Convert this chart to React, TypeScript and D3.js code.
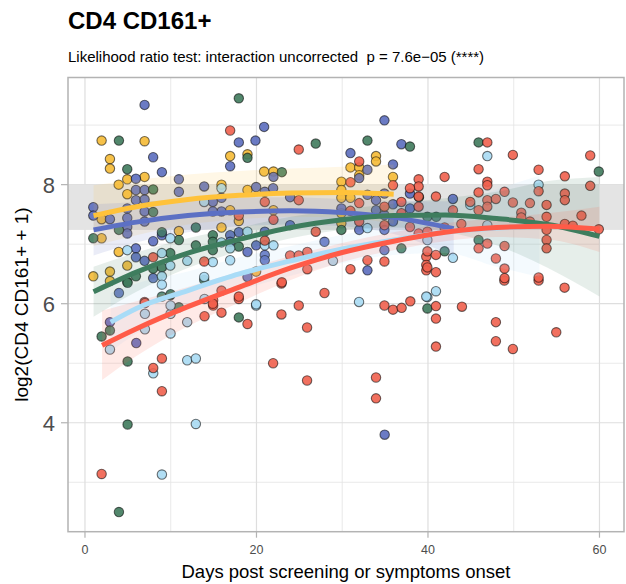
import React from "react";
import * as d3 from "d3";

type P = [number, number];
type F = [number, number, number, number];

const xTicks = [0, 20, 40, 60];
const xMinor = [10, 30, 50];
const yTicks = [4, 6, 8];
const yMinor = [3, 5, 7, 9];
const refBand = [7.24, 8.0];

const yellowPts: P[] = [
  [1.94, 8.74], [6.95, 8.73], [2.91, 8.43], [2.91, 8.27], [4.93, 8.09], [6.95, 8.13], [3.93, 8.0], [4.93, 7.84],
  [1.94, 7.42], [1.94, 7.1], [10.95, 7.22], [3.93, 6.87], [4.93, 6.64], [0.97, 6.46], [2.91, 6.54], [2.91, 6.38],
  [16.93, 8.48], [18.95, 8.51], [20.89, 8.22], [21.98, 8.22], [15.92, 8.0], [18.95, 7.91], [16.93, 7.57], [17.94, 7.39],
  [21.98, 7.57], [15.92, 7.28], [19.96, 6.54], [33.94, 8.48], [33.94, 8.39], [30.96, 8.29], [31.98, 8.29], [35.92, 8.13],
  [31.98, 8.16], [29.9, 8.05], [29.9, 7.91], [29.9, 7.78], [30.96, 7.78], [29.9, 7.52], [29.9, 7.35],
];

const bluePts: P[] = [
  [6.95, 9.34], [7.95, 8.46], [8.97, 8.21], [5.94, 8.1], [10.95, 8.09], [10.95, 7.88], [5.94, 7.91], [6.95, 7.91],
  [5.94, 7.74], [6.95, 7.75], [6.95, 7.55], [0.97, 7.62], [0.97, 7.48], [2.91, 7.42], [4.93, 7.6], [4.93, 7.44],
  [4.93, 7.29], [4.93, 7.18], [6.95, 7.38], [7.95, 7.05], [8.97, 7.15], [5.94, 6.93], [5.94, 6.78], [6.95, 6.72],
  [7.95, 6.43], [3.96, 6.18], [5.98, 5.34], [2.91, 5.69], [20.89, 8.97], [17.94, 8.71], [19.88, 8.74], [16.93, 8.31],
  [21.98, 8.13], [13.9, 7.97], [19.96, 7.96], [20.97, 7.88], [21.94, 7.94], [23.92, 7.79], [15.92, 7.78], [14.91, 7.71],
  [15.92, 7.55], [14.91, 7.55], [17.94, 7.2], [20.97, 7.21], [16.93, 7.15], [23.92, 7.32], [16.93, 7.04], [18.95, 6.87],
  [19.96, 6.98], [20.97, 6.82], [20.97, 6.73], [18.95, 6.45], [34.92, 9.08], [36.9, 8.68], [30.96, 8.53], [32.94, 8.25],
  [35.92, 8.34], [31.98, 8.11], [32.94, 7.83], [33.94, 7.74], [34.92, 7.85], [35.92, 7.67], [37.9, 7.85], [29.9, 7.6],
  [33.94, 7.57], [37.9, 7.6], [34.92, 7.49], [35.92, 7.38], [31.98, 7.24], [34.92, 7.24], [27.93, 7.04], [32.94, 6.56],
  [34.92, 6.9], [42.91, 7.76], [34.95, 3.8],
];

const greenPts: P[] = [
  [3.96, 8.74], [4.93, 8.26], [7.95, 7.92], [7.95, 7.54], [3.96, 7.24], [0.97, 7.1], [8.97, 7.2], [10.95, 7.07],
  [9.95, 6.85], [7.95, 6.59], [8.97, 6.61], [4.93, 6.37], [5.94, 6.46], [8.97, 6.12], [9.95, 6.14], [4.97, 6.35],
  [9.98, 6.16], [10.95, 5.94], [2.91, 5.55], [1.94, 5.45], [4.97, 5.03], [4.97, 3.97], [3.96, 2.5], [17.94, 5.77],
  [17.94, 9.45], [18.95, 8.45], [22.96, 8.21], [12.93, 7.28], [14.91, 7.15], [12.93, 6.98], [14.91, 7.04], [17.94, 6.96],
  [14.91, 6.9], [13.9, 6.4], [26.91, 8.69], [32.94, 8.74], [37.9, 8.64], [29.9, 7.24], [36.9, 6.93], [38.95, 7.79],
  [39.93, 7.46], [40.96, 7.46], [39.93, 5.92], [45.9, 8.71], [45.9, 7.07], [41.94, 6.88], [59.92, 8.22],
];

const lightPts: P[] = [
  [9.95, 7.1], [4.93, 6.9], [8.97, 6.85], [9.95, 6.64], [8.97, 6.46], [8.97, 6.32], [6.99, 5.83], [9.98, 5.83],
  [9.98, 5.97], [2.91, 5.23], [6.99, 5.57], [11.92, 5.69], [9.98, 5.5], [7.96, 4.83], [11.92, 5.05], [12.93, 5.08],
  [12.93, 3.98], [8.97, 3.13], [13.94, 6.08], [19.96, 5.97], [31.96, 6.03], [39.93, 6.11], [40.93, 6.21],
  [15.92, 7.94], [13.9, 7.71], [18.95, 7.21], [15.92, 7.03], [20.97, 6.98], [21.98, 6.98], [16.93, 6.93], [11.93, 6.72],
  [14.91, 6.7], [16.93, 6.73], [13.9, 6.45], [19.96, 5.99], [32.94, 7.27], [28.92, 6.72], [39.8, 6.12],
  [46.92, 8.48], [52.9, 8.0], [44.93, 7.66], [46.92, 7.32], [39.93, 7.07], [42.91, 6.77],
];

const redPts: P[] = [
  [6.95, 6.03], [7.95, 6.78], [1.94, 3.14], [6.99, 6.01], [8.97, 5.08], [7.96, 4.92], [8.97, 4.53], [13.94, 5.79],
  [14.95, 6.06], [14.95, 5.97], [15.92, 6.22], [15.92, 5.85], [17.94, 6.08], [18.95, 5.66], [21.94, 5.0], [22.91, 6.34],
  [22.91, 5.82], [24.93, 5.97], [25.9, 5.6], [25.9, 4.71], [27.93, 6.18], [34.92, 5.97], [35.92, 5.9], [36.93, 5.93],
  [37.94, 6.04], [40.93, 5.96], [40.93, 5.75], [40.93, 5.28], [43.96, 5.95], [47.92, 5.69], [47.92, 5.37], [49.9, 5.24],
  [54.96, 5.52], [33.94, 4.76], [33.94, 4.41], [55.93, 6.27], [48.9, 6.39], [52.9, 6.39],
  [16.93, 8.91], [24.93, 8.59], [20.97, 7.71], [24.93, 7.74], [17.94, 7.48], [21.98, 7.41], [20.97, 7.06], [13.9, 6.71],
  [22.96, 6.36], [23.92, 6.81], [24.93, 6.81], [17.94, 6.12], [14.91, 6.0], [31.98, 8.39], [30.96, 8.04], [35.92, 7.99],
  [38.91, 8.09], [38.91, 7.97], [34.92, 7.63], [36.9, 7.71], [37.9, 7.94], [38.91, 7.63], [38.91, 7.8], [31.98, 7.69],
  [30.96, 7.56], [36.9, 7.52], [31.98, 7.38], [34.92, 7.32], [37.9, 7.29], [38.91, 7.18], [26.91, 7.21], [25.93, 6.87],
  [25.93, 6.58], [30.96, 6.58], [32.94, 6.73], [34.92, 6.71], [39.8, 6.79], [39.8, 6.65], [39.8, 6.56],
  [46.92, 8.71], [49.9, 8.5], [45.9, 8.26], [41.94, 8.13], [52.9, 8.25], [46.92, 8.05], [46.92, 7.99], [48.93, 7.88],
  [45.9, 7.87], [52.9, 7.89], [40.93, 7.8], [44.93, 7.71], [46.92, 7.74], [47.92, 7.76], [46.92, 7.63], [49.9, 7.7],
  [51.89, 7.69], [45.9, 7.57], [50.88, 7.53], [50.88, 7.45], [42.91, 7.57], [53.83, 7.66], [53.83, 7.46], [43.89, 7.34],
  [51.89, 7.38], [41.94, 7.28], [39.93, 7.21], [46.92, 7.01], [45.9, 6.93], [48.93, 6.97], [53.83, 7.24], [53.83, 7.07],
  [53.83, 6.93], [39.93, 6.88], [40.93, 6.82], [47.92, 6.76], [39.93, 6.61], [40.93, 6.53], [48.93, 6.59], [48.93, 6.43],
  [52.9, 6.44], [58.92, 8.49], [55.96, 8.14], [58.92, 7.98], [55.96, 7.85], [55.96, 7.74], [57.9, 7.48], [55.96, 7.34],
  [56.89, 7.31], [59.92, 7.25],
];

// fitted curves: [day, fit, lower, upper]
const yellowFit: F[] = [
  [1, 7.48, 6.97, 7.99], [6, 7.63, 7.15, 8.08], [12, 7.75, 7.33, 8.17], [18, 7.82, 7.42, 8.23],
  [24, 7.86, 7.46, 8.27], [30, 7.87, 7.45, 8.3], [36, 7.84, 7.34, 8.34],
];
const blueFit: F[] = [
  [1, 7.24, 6.81, 7.67], [6, 7.37, 7.03, 7.71], [12, 7.48, 7.2, 7.76], [18, 7.54, 7.3, 7.78],
  [24, 7.56, 7.33, 7.79], [30, 7.53, 7.3, 7.76], [36, 7.45, 7.17, 7.73], [43, 7.26, 6.8, 7.72],
];
const greenFit: F[] = [
  [1, 6.2, 5.78, 6.62], [6, 6.53, 6.2, 6.86], [12, 6.85, 6.6, 7.1], [18, 7.08, 6.88, 7.28],
  [24, 7.28, 7.1, 7.46], [30, 7.41, 7.24, 7.58], [36, 7.48, 7.28, 7.68], [42, 7.49, 7.21, 7.77],
  [48, 7.43, 6.98, 7.88], [54, 7.33, 6.6, 8.06], [60, 7.13, 6.12, 8.13],
];
const lightFit: F[] = [
  [3, 5.69, 5.2, 6.18], [6, 5.92, 5.5, 6.34], [12, 6.22, 5.9, 6.54], [18, 6.5, 6.22, 6.78],
  [24, 6.72, 6.47, 6.97], [30, 6.92, 6.68, 7.16], [36, 7.07, 6.82, 7.32], [42, 7.2, 6.85, 7.55],
  [48, 7.27, 6.62, 7.92], [53, 7.3, 6.45, 8.15],
];
const redFit: F[] = [
  [2, 5.3, 4.72, 5.88], [6, 5.58, 5.12, 6.04], [12, 5.95, 5.62, 6.28], [18, 6.28, 6.02, 6.54],
  [24, 6.6, 6.4, 6.8], [30, 6.86, 6.7, 7.02], [36, 7.05, 6.9, 7.2], [42, 7.2, 7.05, 7.35],
  [48, 7.28, 7.12, 7.44], [54, 7.3, 7.08, 7.52], [60, 7.25, 6.87, 7.63],
];

const series = [
  { key: "yellow", fill: "#F5BA35", line: "#FFC23A", pts: yellowPts, fit: yellowFit },
  { key: "blue", fill: "#5B6DBE", line: "#5C70C4", pts: bluePts, fit: blueFit },
  { key: "green", fill: "#3F7A5C", line: "#3E7D5E", pts: greenPts, fit: greenFit },
  { key: "light", fill: "#A8DAF3", line: "#A9DCF7", pts: lightPts, fit: lightFit },
  { key: "red", fill: "#F0604E", line: "#FF5B48", pts: redPts, fit: redFit },
];
const lineOrder = ["yellow", "blue", "light", "green", "red"];

const W = 626, H = 584;
const PL = 68, PR = 624, PT = 77.5, PB = 531.7;
const FONT = "'Liberation Sans', Arial, Helvetica, sans-serif";

export default function App() {
  const x = d3.scaleLinear().domain([-1.98, 62.86]).range([PL, PR]);
  const y = d3.scaleLinear().domain([2.17, 9.8]).range([PB, PT]);
  const line = d3.line<F>().x(d => x(d[0])).y(d => y(d[1])).curve(d3.curveMonotoneX);
  const area = d3.area<F>().x(d => x(d[0])).y0(d => y(d[2])).y1(d => y(d[3])).curve(d3.curveMonotoneX);
  const byKey: any = {};
  series.forEach(s => (byKey[s.key] = s));

  return (
    <svg width={W} height={H} style={{ position: "absolute", left: 0, top: 0, background: "#fff" }} fontFamily={FONT}>
      <rect x={0} y={0} width={W} height={H} fill="#fff" />
      <text x={68} y={29} fontSize={24} fontWeight="bold" fill="#000">CD4 CD161+</text>
      <text x={68} y={62} fontSize={15} fill="#000" style={{ whiteSpace: "pre" }} xmlSpace="preserve">
        {"Likelihood ratio test: interaction uncorrected\u00A0 p = 7.6e\u221205 (****)"}
      </text>
      <defs>
        <clipPath id="panel">
          <rect x={PL} y={PT} width={PR - PL} height={PB - PT} />
        </clipPath>
      </defs>
      {yMinor.map(t => (
        <line key={"ym" + t} x1={PL} x2={PR} y1={y(t)} y2={y(t)} stroke="#e3e3e3" strokeWidth={0.8} />
      ))}
      {xMinor.map(t => (
        <line key={"xm" + t} x1={x(t)} x2={x(t)} y1={PT} y2={PB} stroke="#e3e3e3" strokeWidth={0.8} />
      ))}
      {yTicks.map(t => (
        <line key={"yg" + t} x1={PL} x2={PR} y1={y(t)} y2={y(t)} stroke="#dedede" strokeWidth={1.2} />
      ))}
      {xTicks.map(t => (
        <line key={"xg" + t} x1={x(t)} x2={x(t)} y1={PT} y2={PB} stroke="#dedede" strokeWidth={1.2} />
      ))}
      <g clipPath="url(#panel)">
        <rect x={PL} width={PR - PL} y={y(refBand[1])} height={y(refBand[0]) - y(refBand[1])} fill="#e4e4e4" />
        {series.map(s => (
          <g key={"p" + s.key}>
            {s.pts.map((d, i) => (
              <circle key={i} cx={x(d[0])} cy={y(d[1])} r={4.7} fill={s.fill} fillOpacity={0.9}
                stroke="#000" strokeOpacity={0.55} strokeWidth={1.1} />
            ))}
          </g>
        ))}
        {lineOrder.map(k => (
          <path key={"a" + k} d={area(byKey[k].fit) || ""} fill={byKey[k].line} fillOpacity={0.13} />
        ))}
        {lineOrder.map(k => (
          <path key={"l" + k} d={line(byKey[k].fit) || ""} fill="none" stroke={byKey[k].line} strokeWidth={5} />
        ))}
      </g>
      <rect x={PL} y={PT} width={PR - PL} height={PB - PT} fill="none" stroke="#b3b3b3" strokeWidth={1.5} />
      {yTicks.map(t => (
        <g key={"yt" + t}>
          <line x1={PL - 7} x2={PL} y1={y(t)} y2={y(t)} stroke="#b3b3b3" strokeWidth={1.2} />
          <text x={55} y={y(t)} dy="0.36em" textAnchor="end" fontSize={22} fill="#4d4d4d">{t}</text>
        </g>
      ))}
      {xTicks.map(t => (
        <g key={"xt" + t}>
          <line x1={x(t)} x2={x(t)} y1={PB} y2={PB + 6} stroke="#b3b3b3" strokeWidth={1.2} />
          <text x={x(t)} y={PB + 22} textAnchor="middle" fontSize={12.5} fill="#4d4d4d">{t}</text>
        </g>
      ))}
      <text x={(PL + PR) / 2} y={578} textAnchor="middle" fontSize={18.5} fill="#000">
        Days post screening or symptoms onset
      </text>
      <text transform={`translate(28,${(PT + PB) / 2}) rotate(-90)`} textAnchor="middle" fontSize={19} fill="#000">
        log2(CD4 CD161+ + 1)
      </text>
    </svg>
  );
}
